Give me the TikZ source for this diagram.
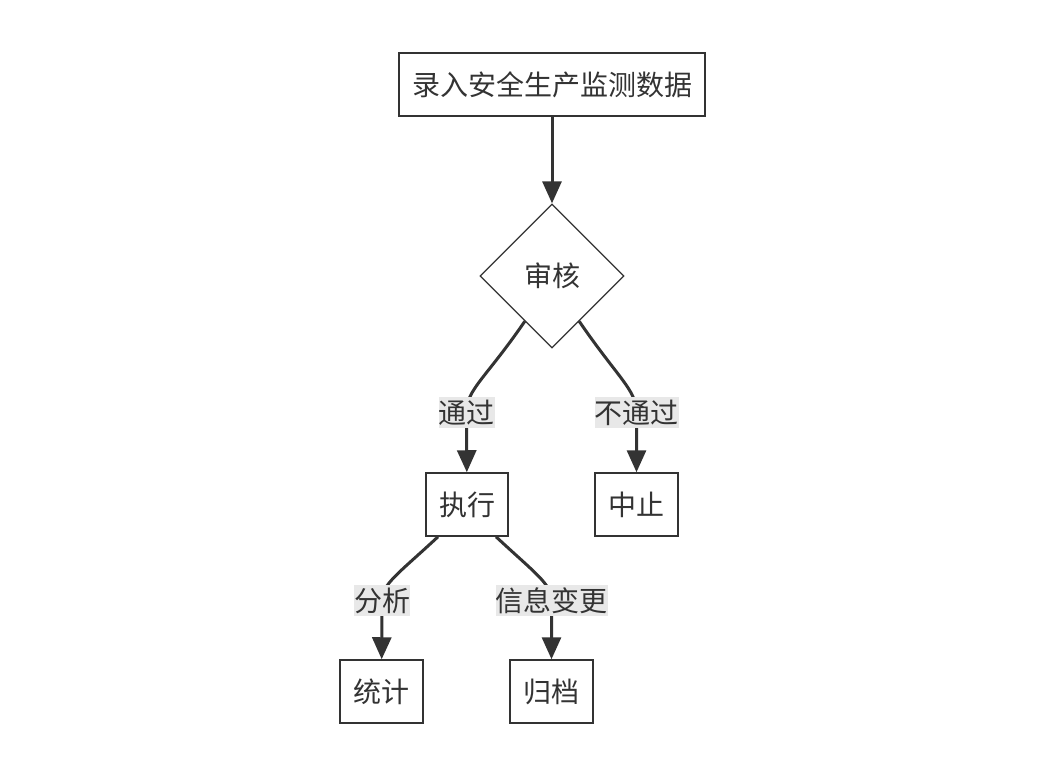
\documentclass[tikz,border=0pt]{standalone}
\usepackage{fontspec}
\setmainfont{Noto Sans CJK SC}
\usetikzlibrary{arrows.meta,shapes.geometric}
\pgfdeclarelayer{bg}
\pgfsetlayers{bg,main}
\definecolor{ink}{HTML}{333333}
\definecolor{lbl}{HTML}{E8E8E8}
\begin{document}
\begin{tikzpicture}[x=1pt,y=-1pt,
  box/.style={draw=ink,line width=1.5pt,fill=white,inner sep=0pt,minimum height=63pt,text=ink,font=\fontsize{28}{30}\selectfont},
  dia/.style={draw=ink,line width=1.3pt,fill=white,diamond,inner sep=0pt,minimum width=144pt,minimum height=144pt,text=ink,font=\fontsize{28}{30}\selectfont},
  lab/.style={fill=lbl,inner xsep=0pt,inner ysep=0pt,minimum height=31pt,text=ink,font=\fontsize{28}{30}\selectfont},
  edge/.style={draw=ink,line width=3pt,-{Triangle[length=22pt,width=19pt]}}]
\useasboundingbox (0,0) rectangle (1046,781);
\node[box,minimum width=306pt] (top) at (552,84.5) {录入安全生产监测数据};
\node[dia] (aud) at (552,276) {审核};
\node[box,minimum width=82pt] (exe) at (467,504.5) {执行};
\node[box,minimum width=83pt] (stop) at (636.5,504.5) {中止};
\node[box,minimum width=83pt] (stat) at (381.5,691.5) {统计};
\node[box,minimum width=83pt] (arch) at (551.5,691.5) {归档};
\node[lab] (l1) at (466.5,412.5) {通过};
\node[lab] (l2) at (636.5,412.5) {不通过};
\node[lab] (l3) at (382,600.5) {分析};
\node[lab] (l4) at (551.5,600.5) {信息变更};
\begin{pgfonlayer}{bg}
\draw[edge] (top) -- (aud);
\draw[edge] (aud.-121) .. controls (486,378) and (466,390) .. (l1.center) -- (exe);
\draw[edge] (aud.-59) .. controls (618,378) and (636.5,390) .. (l2.center) -- (stop);
\draw[edge] ([xshift=-29pt]exe.south) .. controls (398,574) and (382,584) .. (l3.center) -- (stat);
\draw[edge] ([xshift=29pt]exe.south) .. controls (536,574) and (551.5,584) .. (l4.center) -- (arch);
\end{pgfonlayer}
\end{tikzpicture}
\end{document}
